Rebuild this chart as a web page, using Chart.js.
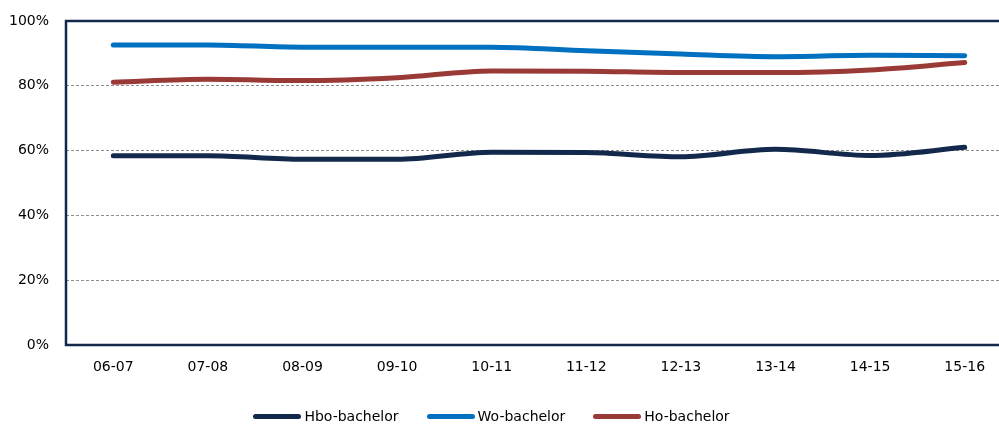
<!DOCTYPE html>
<html>
<head>
<meta charset="utf-8">
<script src="https://cdn.jsdelivr.net/npm/chart.js@4/dist/chart.umd.min.js"></script>
<style>
  html, body { margin: 0; padding: 0; background: #fff; overflow: hidden; }
  #wrap { width: 1020px; height: 425px; position: relative; }
  #legend {
    position: absolute; left: 0; top: 406px; width: 983px; height: 20px;
    display: flex; justify-content: center; align-items: center;
    font: 14px 'DejaVu Sans', Tahoma, sans-serif; color: #000;
  }
  #legend .item { display: flex; align-items: center; margin: 0 14px; }
  #legend .swatch { width: 48px; height: 5px; border-radius: 3px; margin-right: 3px; }
</style>
</head>
<body>
<div id="wrap"><canvas id="chart"></canvas><div id="legend"></div></div>
<script>
const years = ["06-07", "07-08", "08-09", "09-10", "10-11", "11-12", "12-13", "13-14", "14-15", "15-16"];
const hboBachelor = [58.4, 58.4, 57.3, 57.3, 59.5, 59.4, 58.1, 60.4, 58.5, 61.0];
const woBachelor = [92.6, 92.6, 91.9, 91.9, 91.9, 90.8, 89.8, 89.0, 89.4, 89.3];
const hoBachelor = [81.1, 82.0, 81.6, 82.5, 84.6, 84.5, 84.1, 84.1, 84.9, 87.2];
const yTicks = [0, 20, 40, 60, 80, 100];

const navy = "#13294b";
const font = { family: "'DejaVu Sans', Tahoma, sans-serif", size: 14 };

// frame around the plot area
const frame = {
  id: "frame",
  afterDatasetsDraw(chart) {
    const { ctx, chartArea: a } = chart;
    ctx.save();
    ctx.strokeStyle = navy;
    ctx.lineWidth = 2.5;
    ctx.strokeRect(a.left, a.top, a.right - a.left, a.bottom - a.top);
    ctx.restore();
  }
};

// html legend below the canvas
const htmlLegend = {
  id: "htmlLegend",
  afterUpdate(chart) {
    const box = document.getElementById("legend");
    box.innerHTML = "";
    chart.data.datasets.forEach(d => {
      const item = document.createElement("span");
      item.className = "item";
      const sw = document.createElement("span");
      sw.className = "swatch";
      sw.style.background = d.borderColor;
      item.appendChild(sw);
      item.appendChild(document.createTextNode(d.label));
      box.appendChild(item);
    });
  }
};

function line(label, data, color) {
  return {
    label: label,
    data: data,
    borderColor: color,
    backgroundColor: color,
    borderWidth: 5,
    borderCapStyle: "round",
    pointRadius: 0,
    cubicInterpolationMode: "monotone",
  };
}

new Chart(document.getElementById("chart"), {
  type: "line",
  data: {
    labels: years,
    datasets: [
      line("Hbo-bachelor", hboBachelor, navy),
      line("Wo-bachelor", woBachelor, "#0070c0"),
      line("Ho-bachelor", hoBachelor, "#993a37"),
    ],
  },
  options: {
    responsive: true,
    maintainAspectRatio: false,
    animation: false,
    layout: { padding: { top: 21, right: 8, left: 0, bottom: 44 } },
    plugins: {
      tooltip: { enabled: false },
      legend: { display: false },
    },
    scales: {
      x: {
        offset: true,
        grid: { display: false, drawTicks: false },
        border: { display: false },
        ticks: { color: "#000", font: font, padding: 14, maxRotation: 0 },
        afterFit(s) { s.height = 36; },
      },
      y: {
        min: 0,
        max: 100,
        afterBuildTicks(s) { s.ticks = yTicks.map(v => ({ value: v })); },
        grid: {
          drawTicks: false,
          color: (c) => (c.tick.value === 0 || c.tick.value === 100) ? "rgba(0,0,0,0)" : "#8c8c8c",
          lineWidth: 1,
        },
        border: { display: false, dash: [3, 2] },
        ticks: { color: "#000", font: font, padding: 17, callback: v => v + "%" },
        afterFit(s) { s.width = 66; s.paddingTop = 0; s.paddingBottom = 0; },
      },
    },
  },
  plugins: [frame, htmlLegend],
});
</script>
</body>
</html>
